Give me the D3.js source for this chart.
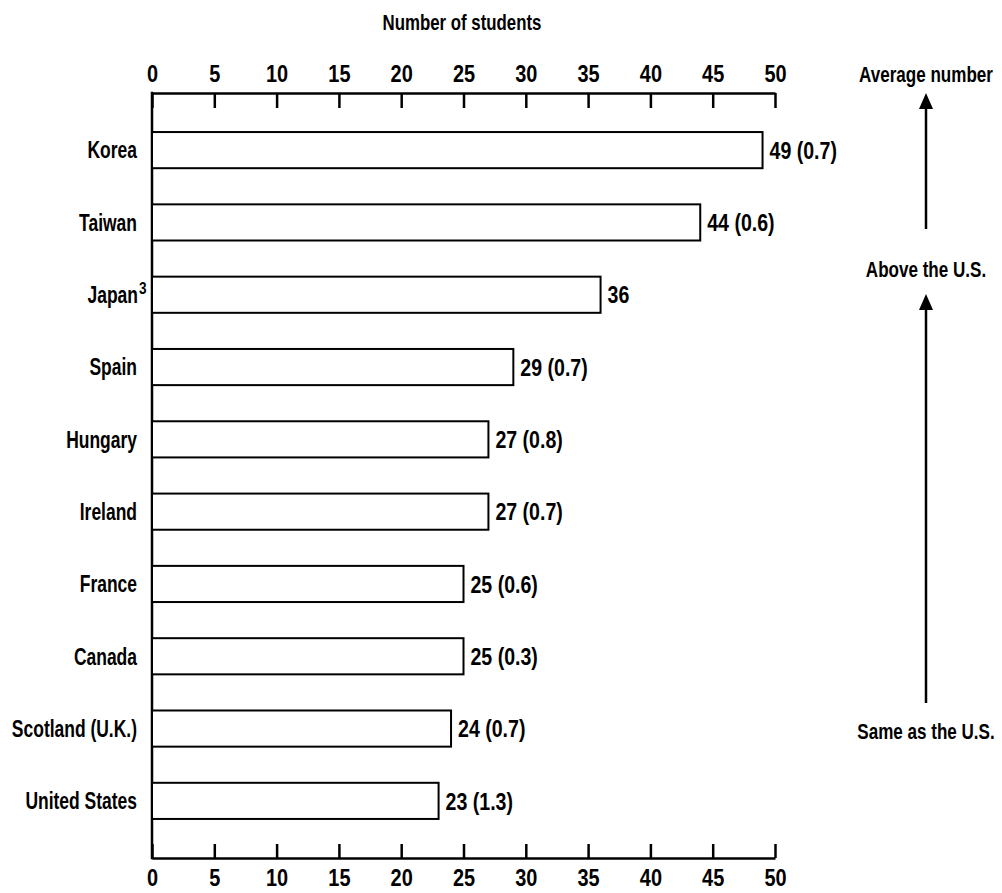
<!DOCTYPE html>
<html>
<head>
<meta charset="utf-8">
<script src="https://cdn.jsdelivr.net/npm/d3@7"></script>
<style>
  html, body { margin: 0; padding: 0; background: #fff; }
  svg { display: block; }
  text { font-family: "Liberation Sans", Arial, sans-serif; font-weight: bold; fill: #000; }
</style>
</head>
<body>
<script>
// ---- data ----
const countries = ["Korea", "Taiwan", "Japan", "Spain", "Hungary", "Ireland", "France", "Canada", "Scotland (U.K.)", "United States"];
const values = [49, 44, 36, 29, 27, 27, 25, 25, 24, 23];
const stdErrors = ["0.7", "0.6", null, "0.7", "0.8", "0.7", "0.6", "0.3", "0.7", "1.3"];
const footnotes = [null, null, "3", null, null, null, null, null, null, null];
const tickValues = [0, 5, 10, 15, 20, 25, 30, 35, 40, 45, 50];
const axisTitle = "Number of students";
const sideLabels = ["Average number", "Above the U.S.", "Same as the U.S."];

(function () {
const W = 1002, H = 893;
const svg = d3.select("body").append("svg").attr("width", W).attr("height", H);

// condense text horizontally around its anchor (reference uses a condensed typeface)
function squeeze(sel, f) {
  sel.each(function () {
    const t = d3.select(this);
    const tx = +t.attr("x") || 0, ty = +t.attr("y") || 0;
    const prev = t.attr("transform") || "";
    t.attr("x", 0).attr("y", 0)
     .attr("transform", `${prev} translate(${tx},${ty}) scale(${f},1)`);
  });
}

const mLeft = 152, mRight = 775, mTop = 93, mBottom = 858;
const x = d3.scaleLinear().domain([0, 50]).range([mLeft, mRight]);
const y = d3.scaleBand().domain(countries).range([mTop, mBottom]).paddingInner(0.5).paddingOuter(0.54);

// title
svg.append("text").attr("x", 462).attr("y", 30).attr("text-anchor", "middle")
  .style("font-size", "22px").text(axisTitle).call(squeeze, 0.765);

// top axis
const gTop = svg.append("g").attr("transform", `translate(0,${mTop})`)
  .call(d3.axisTop(x).tickValues(tickValues).tickSizeInner(-15).tickSizeOuter(0).tickPadding(11).tickFormat(d3.format("d")));
// bottom axis
const gBot = svg.append("g").attr("transform", `translate(0,${mBottom})`)
  .call(d3.axisBottom(x).tickValues(tickValues).tickSizeInner(-14).tickSizeOuter(0).tickPadding(11).tickFormat(d3.format("d")));
[gTop, gBot].forEach(g => {
  g.attr("font-family", null).attr("font-size", null);
  g.select(".domain").attr("stroke", "#000").attr("stroke-width", 2.5);
  g.selectAll(".tick line").attr("stroke", "#000").attr("stroke-width", 2.5);
  g.selectAll(".tick text").style("font-size", "24px").attr("fill", "#000").call(squeeze, 0.83);
});

// vertical axis line
svg.append("line").attr("x1", x(0)).attr("x2", x(0)).attr("y1", mTop - 1.25).attr("y2", mBottom + 1.25)
  .attr("stroke", "#000").attr("stroke-width", 2.5);

// bars
svg.selectAll("rect.bar").data(countries).join("rect").attr("class", "bar")
  .attr("x", x(0)).attr("y", d => y(d))
  .attr("width", (d, i) => x(values[i]) - x(0))
  .attr("height", y.bandwidth())
  .attr("fill", "#fff").attr("stroke", "#000").attr("stroke-width", 2);

// category labels
const lab = svg.selectAll("text.cat").data(countries).join("text").attr("class", "cat")
  .attr("x", (d, i) => footnotes[i] ? 138 : 137)
  .attr("y", d => y(d) + y.bandwidth() / 2)
  .attr("dy", "0.36em")
  .attr("text-anchor", "end")
  .style("font-size", "23px")
  .text(d => d);
lab.call(squeeze, 0.76);

// footnote superscripts
svg.selectAll("text.fn").data(countries.filter((d, i) => footnotes[i])).join("text").attr("class", "fn")
  .attr("x", 139)
  .attr("y", d => y(d) + y.bandwidth() / 2 - 1)
  .style("font-size", "17px")
  .text(d => footnotes[countries.indexOf(d)])
  .call(squeeze, 0.8);

// value labels
svg.selectAll("text.val").data(countries).join("text").attr("class", "val")
  .attr("x", (d, i) => x(values[i]) + 7)
  .attr("y", d => y(d) + y.bandwidth() / 2)
  .attr("dy", "0.36em")
  .style("font-size", "24px")
  .text((d, i) => stdErrors[i] ? `${values[i]} (${stdErrors[i]})` : `${values[i]}`)
  .call(squeeze, 0.815);

// right side annotations
const ax = 926;
const side = svg.append("g");
side.append("text").attr("x", ax).attr("y", 82).text(sideLabels[0]);
side.append("text").attr("x", ax).attr("y", 277).text(sideLabels[1]);
side.append("text").attr("x", ax).attr("y", 739).text(sideLabels[2]);
side.selectAll("text").attr("text-anchor", "middle").style("font-size", "22px").call(squeeze, 0.775);

function arrow(tipY, endY) {
  svg.append("line").attr("x1", ax).attr("x2", ax).attr("y1", tipY + 10).attr("y2", endY)
    .attr("stroke", "#000").attr("stroke-width", 2.5);
  svg.append("path").attr("d", `M${ax},${tipY} L${ax - 7},${tipY + 16} L${ax + 7},${tipY + 16} Z`).attr("fill", "#000");
}
arrow(93, 229);
arrow(294, 703);
})();
</script>
</body>
</html>
